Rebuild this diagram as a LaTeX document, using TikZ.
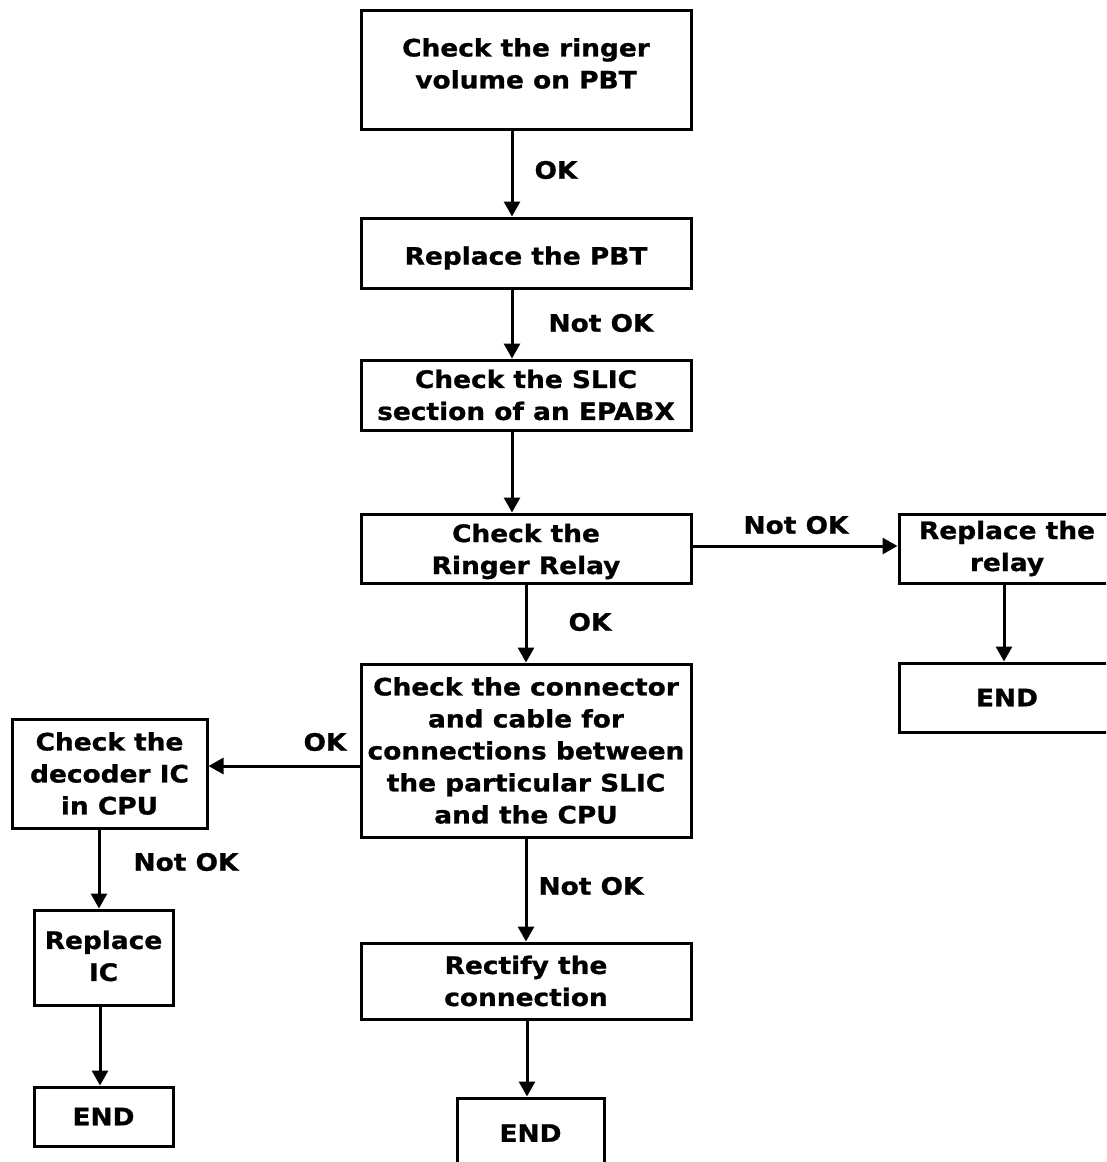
\documentclass[tikz,border=0pt]{standalone}
\usepackage{fontspec}
\newfontfamily\chartfont{DejaVu Sans}[FakeStretch=1.1,FakeBold=1]
\usetikzlibrary{arrows.meta}
\begin{document}
\begin{tikzpicture}[x=1pt,y=-1pt,
  box/.style={draw,line width=3pt,rectangle,align=center,inner sep=0pt,
    font=\chartfont\fontsize{24}{32}\selectfont\bfseries},
  frame/.style={draw,line width=3pt,rectangle,inner sep=0pt},
  txt/.style={align=center,inner sep=0pt,font=\chartfont\fontsize{24}{32}\selectfont\bfseries},
  lbl/.style={inner sep=0pt,font=\chartfont\fontsize{24}{32}\selectfont\bfseries},
  arr/.style={line width=3pt,-{Triangle[length=15pt,width=16pt]}}]
\useasboundingbox (0,0) rectangle (1106,1162);
\clip (0,0) rectangle (1106,1162);
% main column
\node[frame,minimum width=330pt,minimum height=119pt] (b1) at (526,69.5) {};
\node[txt] (b1t) at (526,63.5) {Check the ringer\\volume on PBT};
\node[frame,minimum width=330pt,minimum height=70pt] (b2) at (526,253) {};
\node[txt] (b2t) at (526,258) {Replace the PBT};
\node[box,minimum width=330pt,minimum height=70pt] (b3) at (526,395) {Check the SLIC\\section of an EPABX};
\node[frame,minimum width=330pt,minimum height=69pt] (b4) at (526,548.5) {};
\node[txt] (b4t) at (526,551.5) {Check the\\Ringer Relay};
\node[box,minimum width=330pt,minimum height=173pt] (b6) at (526,750.5) {Check the connector\\and cable for\\connections between\\the particular SLIC\\and the CPU};
\node[box,minimum width=330pt,minimum height=76pt] (b9) at (526,981) {Rectify the\\connection};
\node[box,minimum width=147pt,minimum height=70pt] (e3) at (530.5,1133) {END};
% right branch
\node[box,minimum width=216pt,minimum height=69pt] (b5) at (1007,548.5) {Replace the\\relay};
\node[box,minimum width=216pt,minimum height=69pt] (e1) at (1007,697.5) {END};
% left branch
\node[box,minimum width=195pt,minimum height=109pt] (b7) at (109.5,773.5) {Check the\\decoder IC\\in CPU};
\node[frame,minimum width=139pt,minimum height=95pt] (b8) at (103.5,957.5) {};
\node[txt] (b8t) at (103.5,956) {Replace\\IC};
\node[box,minimum width=139pt,minimum height=59pt] (e2) at (103.5,1116.5) {END};
% connectors
\draw[arr] ([xshift=-14pt]b1.south) -- ([xshift=-14pt]b2.north);
\draw[arr] ([xshift=-14pt]b2.south) -- ([xshift=-14pt]b3.north);
\draw[arr] ([xshift=-14pt]b3.south) -- ([xshift=-14pt]b4.north);
\draw[arr] ([yshift=2.5pt]b4.east) -- ([yshift=2.5pt]b5.west);
\draw[arr] ([xshift=-3pt]b5.south) -- ([xshift=-3pt]e1.north);
\draw[arr] (b4.south) -- (b6.north);
\draw[arr] ([yshift=-15.5pt]b6.west) -- ([yshift=-15.5pt]b6.west -| b7.east);
\draw[arr] ([xshift=-10.5pt]b7.south) -- ([xshift=-10.5pt]b7.south |- b8.north);
\draw[arr] ([xshift=-3.5pt]b8.south) -- ([xshift=-3.5pt]e2.north);
\draw[arr] (b6.south) -- (b9.north);
\draw[arr] ([xshift=1pt]b9.south) -- ([xshift=1pt]b9.south |- e3.north);
% connector labels
\node[lbl] (l1) at (556,170) {OK};
\node[lbl] (l2) at (601,323) {Not OK};
\node[lbl] (l3) at (796,525) {Not OK};
\node[lbl] (l4) at (590,622) {OK};
\node[lbl] (l5) at (325,742) {OK};
\node[lbl] (l6) at (186,862) {Not OK};
\node[lbl] (l7) at (591,886) {Not OK};
\end{tikzpicture}
\end{document}
